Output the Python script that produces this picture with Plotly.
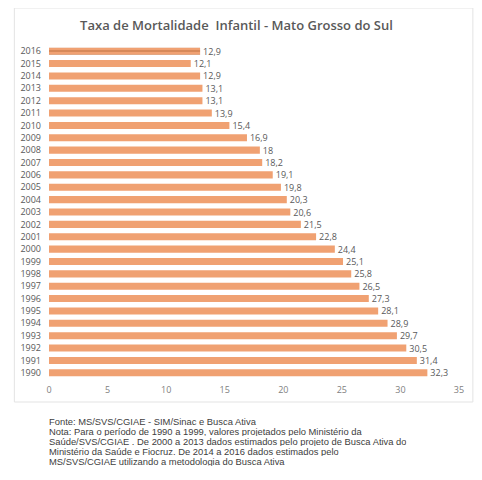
import plotly.graph_objects as go

years = [str(y) for y in range(1990, 2017)]
rates = [32.3, 31.4, 30.5, 29.7, 28.9, 28.1, 27.3, 26.5, 25.8, 25.1,
         24.4, 22.8, 21.5, 20.6, 20.3, 19.8, 19.1, 18.2, 18, 16.9,
         15.4, 13.9, 13.1, 13.1, 12.9, 12.1, 12.9]
labels = [f"{v:g}".replace(".", ",") for v in rates]

title = "Taxa de Mortalidade  Infantil - Mato Grosso do Sul"
note_lines = [
    "Fonte: MS/SVS/CGIAE - SIM/Sinac e Busca Ativa",
    "Nota: Para o período de 1990 a 1999, valores projetados pelo Ministério da",
    "Saúde/SVS/CGIAE . De 2000 a 2013 dados estimados pelo projeto de Busca Ativa do",
    "Ministério da Saúde e Fiocruz. De 2014 a 2016 dados estimados pelo",
    "MS/SVS/CGIAE utilizando a metodologia do Busca Ativa",
]

bar_color = "#F0A172"
# last year (2016) is drawn with a hatched fill in the original
patterns = ["" for _ in years]
patterns[-1] = "-"

# page body has an 8px margin, so the figure is a bit smaller than the window
W, H = 474, 472
ML, MR, MT, MB = 37, 23, 37, 101
plot_w = W - ML - MR
plot_h = H - MT - MB


def px_x(x):
    return (x - ML) / plot_w


def px_y(y):
    return (H - MB - y) / plot_h


fig = go.Figure(go.Bar(
    x=rates, y=years, orientation="h",
    marker=dict(color=bar_color, line=dict(width=0),
                pattern=dict(shape=patterns, fgcolor="#A85A2A", size=4, solidity=0.35)),
    text=labels, textposition="outside", cliponaxis=False, constraintext="none",
    textfont=dict(family="Open Sans", size=9, color="#595959"),
))

annotations = []
for i, line in enumerate(note_lines):
    annotations.append(dict(
        text=line, xref="paper", yref="paper", x=px_x(36), y=px_y(413 + i * 10),
        xanchor="left", yanchor="middle", align="left", showarrow=False,
        height=10, borderpad=0,
        font=dict(family="Liberation Sans", size=9.4, color="#404040")))

fig.update_layout(
    width=W, height=H,
    margin=dict(l=ML, r=MR, t=MT, b=MB),
    paper_bgcolor="white", plot_bgcolor="white",
    bargap=0.43,
    showlegend=False,
    title=dict(text=title, x=228.5 / W, xref="container", xanchor="center",
               y=1 - 17 / H, yanchor="middle",
               font=dict(family="Open Sans", size=13, color="#595959", weight=600)),
    xaxis=dict(range=[0, 35], dtick=5, showgrid=False, zeroline=False,
               showline=False, ticks="", ticklabelstandoff=4,
               tickfont=dict(family="Open Sans", size=9, color="#808080")),
    yaxis=dict(type="category", categoryorder="array", categoryarray=years,
               showgrid=False, showline=False, ticks="", ticklabelstandoff=7,
               tickfont=dict(family="Open Sans", size=9, color="#595959")),
    shapes=[dict(type="rect", xref="paper", yref="paper",
                 x0=px_x(2), x1=px_x(465), y0=px_y(394), y1=px_y(0),
                 line=dict(color="#E3E3E3", width=1), layer="below")],
    annotations=annotations,
)

fig.write_html("out.html")
